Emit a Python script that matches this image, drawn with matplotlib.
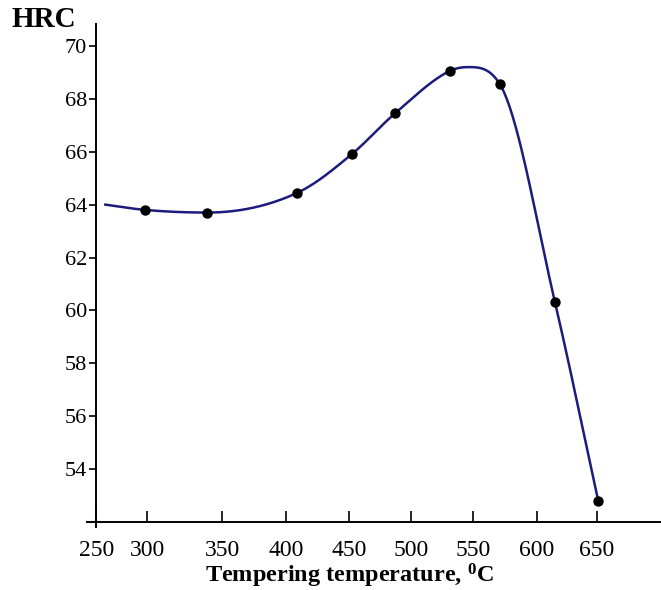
import numpy as np
import matplotlib
matplotlib.use("Agg")
import matplotlib.pyplot as plt

# измеренные точки (температура отпуска, твердость HRC)
temp = np.array([298, 340, 409, 452, 487, 531, 571, 615, 651])
hrc = np.array([63.8, 63.7, 64.45, 65.9, 67.45, 69.05, 68.55, 60.3, 52.8])

# форма сглаженной линии: начало кривой и её вершина
curve_start = (259, 64.0)
curve_peak = (546, 69.2)

xticks = [250, 300, 350, 400, 450, 500, 550, 600, 650]
yticks = [54, 56, 58, 60, 62, 64, 66, 68, 70]

plt.rcParams['font.family'] = ['Liberation Serif', 'DejaVu Serif']
plt.rcParams['mathtext.fontset'] = 'custom'
plt.rcParams['mathtext.rm'] = 'Liberation Serif'
plt.rcParams['mathtext.bf'] = 'Liberation Serif:bold'

# ось x на рисунке неравномерная - повторяем её шкалой
knot_t = np.array([200, 250, 300, 350, 400, 450, 500, 550, 600, 650, 750])
knot_p = np.array([45, 96, 147, 222, 286, 349, 411, 473, 537, 597, 717.0])


def fwd(x):
	return np.interp(np.asarray(x, dtype=float), knot_t, knot_p)


def inv(p):
	return np.interp(np.asarray(p, dtype=float), knot_p, knot_t)


def smooth(x, y, n=40):
	# кубический сплайн Эрмита, наклоны ограничены (Фрич-Карлсон)
	h = np.diff(x)
	d = np.diff(y) / h
	m = np.zeros(len(x))
	for k in range(1, len(x) - 1):
		if d[k - 1] * d[k] > 0:
			avg = (d[k - 1] + d[k]) / 2
			lim = 3 * min(abs(d[k - 1]), abs(d[k]))
			m[k] = np.sign(avg) * min(abs(avg), lim)
	m[0] = d[0]
	m[-1] = d[-1]
	xs, ys = [], []
	t = np.linspace(0, 1, n)
	for i in range(len(x) - 1):
		h00 = 2 * t ** 3 - 3 * t ** 2 + 1
		h10 = t ** 3 - 2 * t ** 2 + t
		h01 = -2 * t ** 3 + 3 * t ** 2
		h11 = t ** 3 - t ** 2
		xs.append(x[i] + h[i] * t)
		ys.append(h00 * y[i] + h10 * h[i] * m[i] + h01 * y[i + 1] + h11 * h[i] * m[i + 1])
	return np.concatenate(xs), np.concatenate(ys)


ct = np.concatenate([[curve_start[0]], temp[:6], [curve_peak[0]], temp[6:]])
ch = np.concatenate([[curve_start[1]], hrc[:6], [curve_peak[1]], hrc[6:]])
cx, cy = smooth(fwd(ct), ch)

fig = plt.figure(figsize=(6.61, 5.90), dpi=100)
ax = fig.add_axes([87 / 661, 63 / 590, 573 / 661, 503 / 590])
ax.set_xscale('function', functions=(fwd, inv))

ax.plot(inv(cx), cy, color="#1c1c7e", lw=1.8, zorder=2)
ax.scatter(temp, hrc, color="black", s=42, zorder=3)

ax.set_xlim(241, 702.5)
ax.set_ylim(51.81, 70.83)

ax.spines['top'].set_visible(False)
ax.spines['right'].set_visible(False)
ax.spines['left'].set_position(('data', 250))
ax.spines['bottom'].set_position(('data', 52))
for s in ('left', 'bottom'):
	ax.spines[s].set_linewidth(1.4)

ax.set_xticks(xticks)
ax.set_xticklabels([str(v) for v in xticks])
ax.set_yticks(yticks)
ax.set_yticklabels([str(v) for v in yticks])
ax.xaxis.set_minor_locator(matplotlib.ticker.NullLocator())
ax.tick_params(axis='x', direction='in', length=8, width=1.2, pad=13,
	labelsize=17)
ax.tick_params(axis='y', direction='out', length=5, width=1.2, pad=1.5,
	labelsize=16)

fig.text(12 / 661, 563 / 590, "HRC", fontsize=21, fontweight='bold',
	ha='left', va='baseline')
fig.text(349 / 661, 7 / 590, r"Tempering temperature, $\mathbf{^0}$C",
	fontsize=17.5, fontweight='bold', ha='center', va='baseline')

fig.savefig("out.png", dpi=100)
